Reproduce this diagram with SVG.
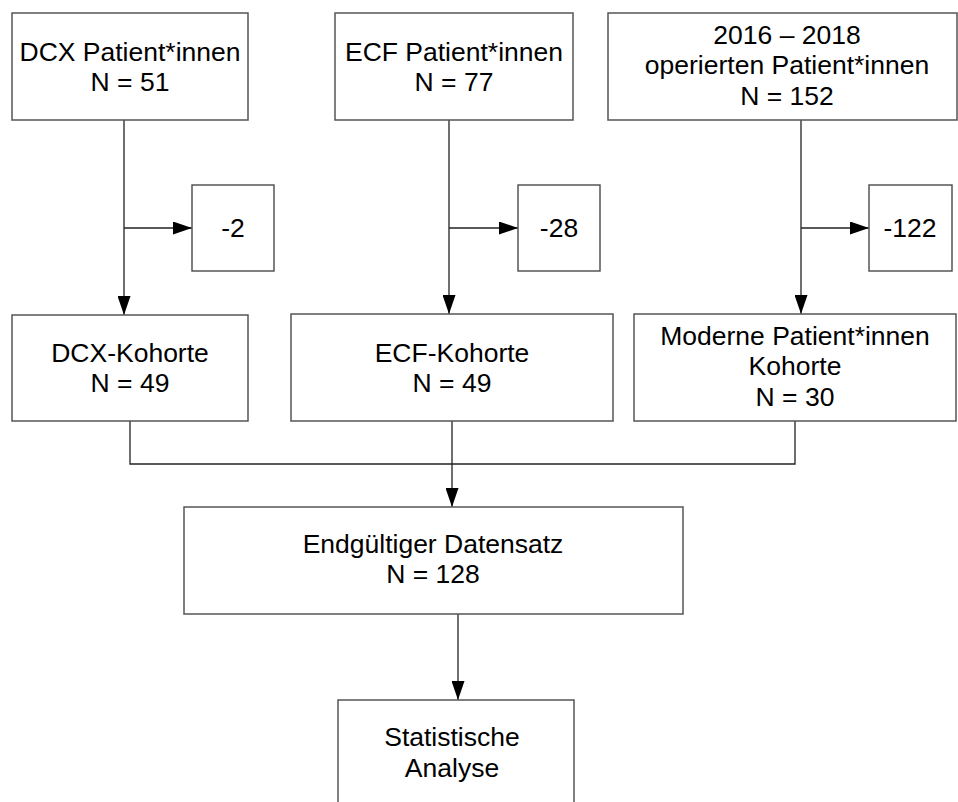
<svg xmlns="http://www.w3.org/2000/svg" width="958" height="802" viewBox="0 0 958 802">
<defs>
<marker id="arr" viewBox="0 0 19 13" refX="19" refY="6.5" markerWidth="19" markerHeight="13" markerUnits="userSpaceOnUse" orient="auto">
<path d="M0,0 L19,6.5 L0,13 Z" fill="#000"/>
</marker>
<style>
.box{fill:#fff;stroke:#555;stroke-width:1.5}
.t{font-family:"Liberation Sans",Arial,sans-serif;font-size:26.5px;fill:#000;text-anchor:middle}
.c{fill:none;stroke:#222;stroke-width:1.3}
</style>
</defs>
<rect width="958" height="802" fill="#fff"/>
<g id="connectors">
<path class="c" d="M124,120 V315" marker-end="url(#arr)"/>
<path class="c" d="M124,228 H192" marker-end="url(#arr)"/>
<path class="c" d="M449,120 V314" marker-end="url(#arr)"/>
<path class="c" d="M449,228 H518" marker-end="url(#arr)"/>
<path class="c" d="M801,120 V314" marker-end="url(#arr)"/>
<path class="c" d="M801,228 H869" marker-end="url(#arr)"/>
<path class="c" d="M130,421 V464 H795 V421"/>
<path class="c" d="M452,421 V507" marker-end="url(#arr)"/>
<path class="c" d="M458,614 V700" marker-end="url(#arr)"/>
</g>
<g id="dcx-patients">
<rect class="box" x="12" y="13" width="236" height="107"/>
<text class="t" x="130" y="61">DCX Patient*innen</text>
<text class="t" x="130" y="91">N = 51</text>
</g>
<g id="ecf-patients">
<rect class="box" x="335" y="13" width="238" height="107"/>
<text class="t" x="454" y="61">ECF Patient*innen</text>
<text class="t" x="454" y="91">N = 77</text>
</g>
<g id="operated-patients">
<rect class="box" x="608" y="13" width="349" height="107"/>
<text class="t" x="787" y="44">2016 – 2018</text>
<text class="t" x="787" y="74">operierten Patient*innen</text>
<text class="t" x="787" y="105">N = 152</text>
</g>
<g id="minus-2">
<rect class="box" x="192" y="185" width="82" height="86"/>
<text class="t" x="233" y="237">-2</text>
</g>
<g id="minus-28">
<rect class="box" x="518" y="185" width="82" height="86"/>
<text class="t" x="559" y="237">-28</text>
</g>
<g id="minus-122">
<rect class="box" x="869" y="185" width="83" height="86"/>
<text class="t" x="910" y="237">-122</text>
</g>
<g id="dcx-kohorte">
<rect class="box" x="12" y="315" width="236" height="106"/>
<text class="t" x="130" y="362">DCX-Kohorte</text>
<text class="t" x="130" y="392">N = 49</text>
</g>
<g id="ecf-kohorte">
<rect class="box" x="291" y="314" width="322" height="107"/>
<text class="t" x="452" y="362">ECF-Kohorte</text>
<text class="t" x="452" y="392">N = 49</text>
</g>
<g id="moderne-kohorte">
<rect class="box" x="634" y="314" width="322" height="107"/>
<text class="t" x="795" y="345">Moderne Patient*innen</text>
<text class="t" x="795" y="375">Kohorte</text>
<text class="t" x="795" y="406">N = 30</text>
</g>
<g id="endgueltiger-datensatz">
<rect class="box" x="184" y="507" width="499" height="107"/>
<text class="t" x="433" y="553">Endgültiger Datensatz</text>
<text class="t" x="433" y="583">N = 128</text>
</g>
<g id="statistische-analyse">
<rect class="box" x="338" y="700" width="236" height="120"/>
<text class="t" x="452" y="746">Statistische</text>
<text class="t" x="452" y="777">Analyse</text>
</g>
</svg>
